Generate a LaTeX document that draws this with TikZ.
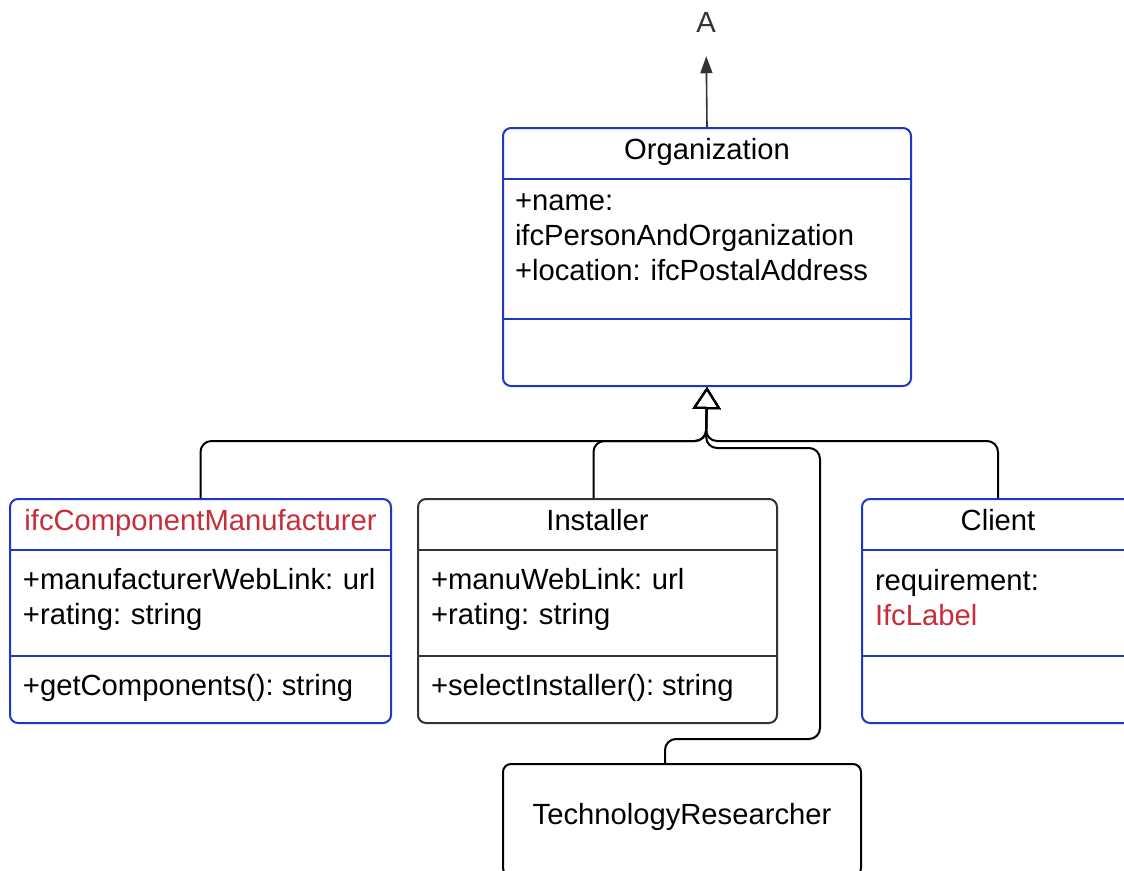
\documentclass[tikz,border=0pt]{standalone}
\usepackage{fontspec}
\setmainfont{Liberation Sans}
\usepackage{xcolor}
\usepackage{tikz}
\usetikzlibrary{arrows.meta,positioning}
\definecolor{umlblue}{HTML}{1E37C8}
\definecolor{ifcred}{HTML}{C92D39}
\definecolor{darkline}{HTML}{333333}
\frenchspacing

\begin{document}
\begin{tikzpicture}[
    x=1pt, y=-1pt,
    font=\fontsize{29.2pt}{35pt}\selectfont,
    classbox/.style={draw=#1, fill=white, line width=2pt, rounded corners=8pt, anchor=north west, inner sep=0pt},
    ctitle/.style={minimum width=#1, minimum height=52pt, inner sep=0pt, text height=21pt, text depth=9pt},
    cops/.style={minimum width=#1, minimum height=68pt, inner sep=0pt},
    cattr/.style={text width=#1, align=left, inner sep=0pt, execute at begin node=\strut},
    ctext/.style={inner sep=0pt, text height=21pt, text depth=9pt},
    cline/.style={line width=2pt},
    inherit/.style={line width=2pt, rounded corners=11pt, -{Triangle[open, length=22pt, width=28pt]}},
    leadarrow/.style={draw=darkline, line width=1.6pt, -{Triangle[length=17pt, width=12pt]}}
]
    \useasboundingbox (0,0) rectangle (1124,870);
    \clip (0,0) rectangle (1124,870);
    \fill[white] (0,0) rectangle (1124,870);

    % Organization
    \node[classbox=umlblue, minimum width=408pt, minimum height=258pt] (org) at (502,127) {};
    \node[ctitle=408pt, below=0pt of org.north] (orgname) {Organization};
    \node[cattr=380pt, below right=6pt and 12pt of orgname.south west] (orgattr) {+name:\\ifcPersonAndOrganization\\+location: ifcPostalAddress};
    \node[cops=408pt, above=0pt of org.south] (orgops) {};
    \draw[cline, umlblue] (orgname.south west) -- (orgname.south east) (orgops.north west) -- (orgops.north east);

    % ifcComponentManufacturer
    \node[classbox=umlblue, minimum width=381pt, minimum height=224pt] (mfr) at (9,498) {};
    \node[ctitle=381pt, below=0pt of mfr.north, text=ifcred] (mfrname) {ifcComponentManufacturer};
    \node[cattr=360pt, below right=14.5pt and 13pt of mfrname.south west] (mfrattr) {+manufacturerWebLink: url\\+rating: string};
    \node[cops=381pt, above=0pt of mfr.south] (mfrops) {};
    \node[ctext, right=13pt of mfrops.west] (mfrop) {+getComponents(): string};
    \draw[cline, umlblue] (mfrname.south west) -- (mfrname.south east) (mfrops.north west) -- (mfrops.north east);

    % Installer
    \node[classbox=darkline, minimum width=359pt, minimum height=224pt] (inst) at (417,498) {};
    \node[ctitle=359pt, below=0pt of inst.north] (instname) {Installer};
    \node[cattr=330pt, below right=14.5pt and 13pt of instname.south west] (instattr) {+manuWebLink: url\\+rating: string};
    \node[cops=359pt, above=0pt of inst.south] (instops) {};
    \node[ctext, right=13pt of instops.west] (instop) {+selectInstaller(): string};
    \draw[cline, darkline] (instname.south west) -- (instname.south east) (instops.north west) -- (instops.north east);

    % Client
    \node[classbox=umlblue, minimum width=272pt, minimum height=224pt] (cli) at (861,498) {};
    \node[ctitle=272pt, below=0pt of cli.north] (cliname) {Client};
    \node[cattr=250pt, below right=15pt and 13pt of cliname.south west] (cliattr) {requirement:\\\textcolor{ifcred}{IfcLabel}};
    \node[cops=272pt, above=0pt of cli.south] (cliops) {};
    \draw[cline, umlblue] (cliname.south west) -- (cliname.south east) (cliops.north west) -- (cliops.north east);

    % TechnologyResearcher
    \node[classbox=black, minimum width=358pt, minimum height=112pt, text height=21pt, text depth=13pt] (tr) at (502,763) {TechnologyResearcher};

    % generalisation
    \coordinate (hub) at (706,441);
    \coordinate (instport) at ([xshift=-4pt]inst.north);
    \coordinate (trport) at ([xshift=-17pt]tr.north);
    \draw[inherit] (mfr.north) |- (hub) -- (org.south);
    \draw[inherit] (instport) |- (hub) -- (org.south);
    \draw[inherit] (cli.north) |- (hub) -- (org.south);
    \draw[inherit] (trport) |- (820,739) |- (706,448) -- (org.south);

    % association upwards
    \node[text=darkline, inner sep=0pt] (alabel) at (706,22) {A};
    \draw[leadarrow, shorten >=24pt] (org.north) -- (alabel.south);
\end{tikzpicture}
\end{document}
